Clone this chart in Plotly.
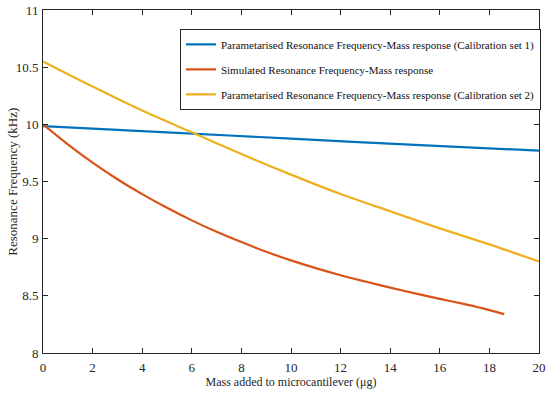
import plotly.graph_objects as go

# Data
blue_x = [0, 5, 10, 15, 20]
blue_y = [9.985, 9.93, 9.875, 9.82, 9.77]

red_x = [0, 1, 2, 3, 4, 5, 6, 7, 8, 9, 10, 11, 12, 13, 14, 15, 16, 17, 18, 18.6]
red_y = [10.0, 9.825, 9.665, 9.52, 9.39, 9.27, 9.16, 9.06, 8.97, 8.885, 8.81, 8.742,
         8.68, 8.625, 8.572, 8.522, 8.474, 8.427, 8.375, 8.34]

yellow_x = [0, 2, 4, 6, 8, 10, 12, 14, 16, 18, 20]
yellow_y = [10.55, 10.33, 10.12, 9.93, 9.74, 9.56, 9.39, 9.24, 9.09, 8.95, 8.80]

names = [
    "Parametarised Resonance Frequency-Mass response (Calibration set 1)",
    "Simulated Resonance Frequency-Mass response",
    "Parametarised Resonance Frequency-Mass response (Calibration set 2)",
]
colors = ["#0072BD", "#D95319", "#EDB120"]
y_title = "Resonance Frequency (kHz)"
x_title = "Mass added to microcantilever (μg)"

fig = go.Figure()
for i, ((x, y), name, c) in enumerate(zip([(blue_x, blue_y), (red_x, red_y), (yellow_x, yellow_y)], names, colors)):
    fig.add_trace(go.Scatter(x=x, y=y, mode="lines", name=name, legendgroup=f"g{i}",
                             line=dict(color=c, width=2.2, shape="spline", smoothing=0.8)))

font = "Liberation Serif, Times New Roman, serif"
axcol = "#262626"
axis_common = dict(showgrid=False, zeroline=False, showline=True, linecolor=axcol, linewidth=1,
                   mirror="ticks", ticks="inside", ticklen=5, tickcolor=axcol, automargin=False,
                   ticklabeloverflow="allow",
                   tickfont=dict(family=font, size=13, color=axcol))

fig.update_layout(
    width=550, height=396,
    margin=dict(l=43, r=9, t=10, b=43),
    paper_bgcolor="white", plot_bgcolor="white",
    font=dict(family=font, size=12, color=axcol),
    xaxis=dict(range=[0, 20], dtick=2, ticklabelstandoff=2,
               title=dict(text=x_title, font=dict(family=font, size=12), standoff=3), **axis_common),
    yaxis=dict(range=[8, 11], dtick=0.5, ticklabelstandoff=1, **axis_common),
    legend=dict(x=0.64, y=0.945, xanchor="center", yanchor="top",
                bordercolor=axcol, borderwidth=1, bgcolor="white",
                font=dict(family=font, size=11, color="#111"),
                tracegroupgap=6, itemwidth=30),
    showlegend=True,
    annotations=[dict(text=y_title, xref="paper", yref="paper", x=-0.0622, y=0.5,
                      xanchor="center", yanchor="middle", textangle=-90, showarrow=False,
                      font=dict(family=font, size=13, color=axcol))],
)

fig.write_html("out.html", config={"displayModeBar": False},
               post_script="document.body.style.margin='0';")
